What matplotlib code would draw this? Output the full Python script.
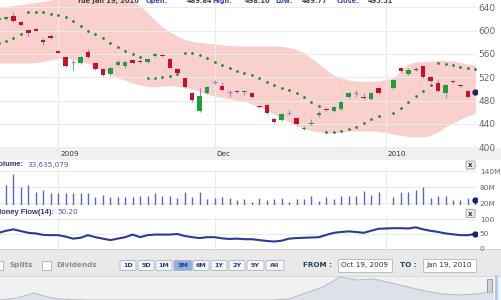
import numpy as np
import matplotlib.pyplot as plt
from matplotlib.patches import Rectangle, FancyBboxPatch

# ---- data (Oct 16 2009 .. Jan 19 2010, one row per session) ----
# session index; 51 (Dec 31) has no data in the chart
days = [-1] + list(range(0, 51)) + list(range(52, 64))

opens = [618.0, 620.0, 625.1, 614.8, 601.1, 602.0, 584.0, 590.8, 565.1, 554.8,
         547.0, 544.5, 563.4, 544.5, 534.2, 525.7, 541.1, 539.4, 549.7, 548.0,
         546.2, 556.5, 558.2, 551.4, 534.2, 518.8, 493.1, 462.3, 493.1, 512.0,
         505.1, 494.8, 496.5, 494.8, 493.1, 470.8, 472.5, 448.5, 446.8, 458.8,
         450.3, 431.4, 440.0, 455.4, 465.7, 462.3, 465.7, 486.3, 493.1, 486.3,
         482.8, 501.7,
         501.7, 536.0, 525.7, 534.2, 539.4, 520.5, 510.2, 493.1, 513.7, 506.8,
         496.5, 489.84]
highs = [623.0, 625.0, 631.9, 616.5, 602.8, 604.5, 587.4, 594.2, 566.0, 556.5,
         549.7, 556.5, 568.5, 546.2, 536.0, 537.7, 549.7, 548.0, 551.4, 549.7,
         553.1, 561.7, 560.0, 553.1, 536.0, 520.5, 494.8, 501.7, 505.1, 515.4,
         512.0, 498.3, 498.3, 498.3, 494.8, 472.5, 474.3, 450.3, 458.8, 464.0,
         452.0, 436.6, 448.5, 462.3, 467.4, 470.8, 479.4, 494.8, 498.3, 493.1,
         494.8, 503.4,
         517.1, 537.7, 536.0, 537.7, 541.1, 522.2, 515.4, 508.5, 515.4, 508.5,
         498.3, 498.10]
lows = [617.0, 618.5, 614.8, 608.0, 590.8, 597.7, 575.4, 585.7, 561.0, 537.7,
        532.5, 542.8, 553.1, 532.5, 522.2, 522.2, 539.4, 536.0, 542.8, 544.5,
        544.5, 554.8, 554.8, 535.5, 525.7, 501.7, 477.7, 460.5, 491.4, 508.5,
        496.5, 486.3, 493.1, 489.7, 484.5, 468.2, 457.1, 441.7, 445.1, 455.4,
        438.3, 429.7, 438.3, 452.0, 462.3, 460.5, 464.0, 484.5, 486.3, 482.8,
        481.1, 491.4,
        500.0, 529.1, 524.0, 530.8, 518.8, 512.0, 494.8, 484.5, 510.2, 503.4,
        484.5, 489.77]
closes = [621.0, 623.0, 616.5, 609.7, 596.0, 599.4, 580.5, 587.4, 561.7, 539.4,
          547.0, 554.8, 554.8, 534.2, 524.0, 536.0, 546.2, 546.2, 544.5, 546.2,
          551.4, 560.0, 556.5, 536.0, 527.4, 503.4, 481.1, 488.0, 503.4, 512.0,
          498.3, 494.8, 494.8, 496.5, 486.3, 469.1, 458.8, 443.4, 457.1, 458.8,
          440.0, 433.1, 441.7, 458.8, 464.0, 469.1, 477.7, 493.1, 493.1, 484.5,
          493.1, 493.1,
          515.4, 530.8, 532.5, 532.5, 520.5, 513.7, 496.5, 506.8, 512.0, 505.1,
          486.3, 495.51]

# parabolic SAR
sar = [578.8, 582.2, 587.4, 594.2, 631.9, 631.9, 631.1, 628.5, 626.8, 623.4,
       616.5, 608.0, 599.4, 594.2, 587.4, 578.8, 571.9, 565.1, 560.0, 554.8,
       518.8, 518.8, 520.5, 522.2, 524.8, 561.7, 560.8, 558.2, 553.1, 546.2,
       541.1, 536.0, 530.8, 527.4, 524.0, 518.8, 512.0, 506.8, 502.5, 498.3,
       493.1, 486.3, 477.7, 470.8, 426.3, 426.3, 428.0, 431.4, 434.8, 441.7,
       448.5, 452.8,
       458.8, 467.4, 477.7, 488.0, 496.5, 506.0, 544.5, 542.8, 541.1, 537.7,
       536.0, 534.2]

# Bollinger bands
bb_upper = [639.7, 641.4, 643.1, 644.8, 646.5, 648.2, 649.9, 652.5, 655.1, 657.7,
            659.4, 661.1, 661.1, 661.1, 660.2, 659.4, 657.7, 655.1, 650.8, 642.2,
            630.2, 618.2, 606.2, 597.7, 590.8, 584.8, 581.4, 579.7, 578.0, 577.1,
            575.4, 574.5, 573.7, 573.7, 573.7, 573.7, 573.7, 573.7, 572.8, 571.1,
            567.7, 561.7, 553.1, 542.8, 532.5, 524.0, 518.8, 515.4, 513.7, 512.8,
            512.8, 513.7,
            518.8, 530.8, 542.8, 546.2, 547.1, 548.0, 548.8, 548.8, 548.0, 545.4,
            542.8, 541.1]
bb_lower = [544.5, 544.5, 544.5, 544.5, 544.5, 545.4, 547.1, 549.7, 552.2, 553.1,
            550.5, 548.0, 543.7, 539.4, 532.5, 525.7, 519.7, 514.5, 510.2, 506.8,
            504.3, 503.4, 505.1, 505.9, 504.3, 502.5, 500.0, 495.7, 491.4, 488.0,
            485.4, 482.8, 481.1, 478.5, 474.3, 469.1, 464.0, 457.1, 450.3, 443.4,
            436.6, 432.3, 428.8, 426.3, 424.5, 424.5, 426.3, 428.0, 428.0, 428.0,
            428.0, 427.1,
            422.8, 420.3, 418.5, 417.7, 417.7, 420.3, 426.3, 434.8, 441.7, 448.5,
            453.7, 458.8]

# volume in millions
volume = [88.6, 88.6, 129.9, 82.3, 88.6, 63.5, 69.9, 59.8, 58.6, 58.6,
          58.6, 58.6, 58.6, 44.8, 51.1, 44.8, 44.8, 44.8, 44.8, 47.4,
          47.4, 57.5, 47.4, 47.4, 41.0, 61.3, 44.8, 63.5, 35.0, 38.8,
          42.5, 38.8, 32.4, 35.0, 26.0, 38.8, 32.4, 35.0, 41.0, 26.0,
          35.0, 35.0, 47.4, 29.8, 44.8, 35.0, 47.4, 47.4, 47.4, 67.3,
          51.1, 63.5,
          42.5, 63.5, 61.3, 69.9, 80.0, 41.0, 47.4, 48.5, 32.4, 32.4,
          38.8, 33.635079]

# money flow (14)
money_flow = [54, 61, 66, 60, 54, 52, 47, 46, 46, 41,
              34, 37, 46, 39, 34, 29, 34, 39, 48, 39,
              46, 48, 48, 48, 50, 43, 39, 36, 39, 39,
              35, 33, 34, 32, 32, 29, 26, 24, 27, 34,
              36, 37, 38, 39, 47, 54, 57, 59, 57, 54,
              61, 68,
              70, 70, 69, 73, 66, 61, 57, 52, 49, 46,
              46, 50.20]

grid_days = [7, 28, 51]
grid_labels = ["2009", "Dec", "2010"]
price_ticks = [400, 440, 480, 520, 560, 600, 640]
vol_ticks = [20, 80, 140]
vol_labels = ["20M", "80M", "140M"]
mf_ticks = [0, 50, 100]

# overview strip along the bottom (long history, mostly below view)
overview = [0, 2, 7, 2, 0.5, 0, 0, 0, 0, 0, 0, 0, 0, 0, 0, 0, 0, 1, 7, 13,
            23, 20, 21, 17, 13, 9, 6, 5, 6, 8]

buttons = ["1D", "5D", "1M", "3M", "6M", "1Y", "2Y", "5Y", "All"]

# ---- figure ----
W, H = 501, 300
RED = "#c3122f"
GREEN = "#1f9e3f"
WICK = "#8a93c8"
NAVY = "#1c2370"
GRID = "#ebebeb"
LBL = "#666666"
ARIAL = "Liberation Sans"

fig = plt.figure(figsize=(W / 100, H / 100), dpi=100)
fig.patch.set_facecolor("white")
plt.rcParams["font.family"] = ["DejaVu Sans"]

bg = fig.add_axes([0, 0, 1, 1], zorder=0)
bg.set_xlim(0, W)
bg.set_ylim(H, 0)
bg.axis("off")

# transparent overlay for texts that sit on top of the panels
top = fig.add_axes([0, 0, 1, 1], zorder=10)
top.set_xlim(0, W)
top.set_ylim(H, 0)
top.axis("off")


def px_axes(x0, y0, x1, y1, z=1):
    a = fig.add_axes([x0 / W, 1 - y1 / H, (x1 - x0) / W, (y1 - y0) / H], zorder=z)
    a.set_facecolor("none")
    for s in a.spines.values():
        s.set_visible(False)
    return a


xlo, xhi = -6 / 7.45, 471 / 7.45

# date band
bg.add_patch(Rectangle((0, 147.5), W, 12.5, color="#eef0f4", lw=0))
for d, lab in zip(grid_days, grid_labels):
    bg.text(6 + 7.45 * d + 2, 154, lab, fontsize=5.2, color="#333333", va="center")

# header (cut off at the top)
hdr = [(77, "Tue Jan 19, 2010", "#444444"), (146, "Open:", "#3b4fa0"),
       (187, "489.84", "#444444"), (212, "High:", "#3b4fa0"),
       (245, "498.10", "#444444"), (275, "Low:", "#3b4fa0"),
       (302, "489.77", "#444444"), (337, "Close:", "#3b4fa0"),
       (368, "495.51", "#444444")]
for x, s, c in hdr:
    top.text(x, 3, s, fontsize=4.8, color=c, fontweight="bold", va="baseline")

# ---- main price panel ----
ax = px_axes(0, 0, 477, 148)
ax.set_xlim(xlo, xhi)
ax.set_ylim(398.8, 652.5)
ax.fill_between(days, bb_lower, bb_upper, color="#f9d0cc", lw=0, zorder=1)
ax.set_axisbelow("line")
ax.set_xticks(grid_days)
ax.set_yticks(price_ticks)
ax.grid(True, color=GRID, lw=0.8)
ax.yaxis.tick_right()
ax.tick_params(axis="x", length=0, labelbottom=False)
ax.tick_params(axis="y", length=0, pad=1, labelsize=6.5, labelcolor=LBL)

for d, o, h, l, c in zip(days, opens, highs, lows, closes):
    ax.vlines(d, l, h, color=WICK, lw=0.8, zorder=2)
    if c > o:
        ax.bar(d, c - o, bottom=o, width=0.6, color=GREEN, lw=0, zorder=3)
    elif c < o:
        ax.bar(d, o - c, bottom=c, width=0.6, color=RED, lw=0, zorder=3)
    else:
        ax.hlines(o, d - 0.3, d + 0.3, color=WICK, lw=0.9, zorder=3)

ax.plot(days, sar, "o", color="#1d8a3a", ms=2.0, mew=0, zorder=4)
ax.plot(days[-1], closes[-1], "o", color=NAVY, ms=3.5, zorder=5)

# ---- volume panel ----
top.text(-5, 165, "Volume:", fontsize=5.4, family=ARIAL, color="#2b3580", fontweight="bold", va="center")
top.text(27, 165, "33,635,079", fontsize=5.2, color="#4a58b0", va="center")
axv = px_axes(0, 170, 477, 204.5)
axv.set_xlim(xlo, xhi)
axv.set_ylim(15.5, 144.9)
axv.set_axisbelow(True)
axv.set_xticks(grid_days)
axv.set_yticks(vol_ticks)
axv.set_yticklabels(vol_labels)
axv.grid(True, color=GRID, lw=0.8)
axv.yaxis.tick_right()
axv.tick_params(axis="x", length=0, labelbottom=False)
axv.tick_params(axis="y", length=0, pad=2, labelsize=5.3, labelcolor=LBL)
axv.vlines(days, 0, volume, color="#5b66c1", lw=1.0)
axv.plot(days[-1], volume[-1], "o", color=NAVY, ms=3.5, zorder=5)

# ---- money flow panel ----
top.text(-5, 212.5, "Money Flow(14):", fontsize=5.4, family=ARIAL, color="#2b3580", fontweight="bold", va="center")
top.text(57, 212.5, "50.20", fontsize=5.2, color="#4a58b0", va="center")
axm = px_axes(0, 216, 477, 249)
axm.set_xlim(xlo, xhi)
axm.set_ylim(-1.7, 112)
axm.set_axisbelow(True)
axm.set_xticks(grid_days)
axm.set_yticks(mf_ticks)
axm.grid(True, color=GRID, lw=0.8)
axm.yaxis.tick_right()
axm.tick_params(axis="x", length=0, labelbottom=False)
axm.tick_params(axis="y", length=0, pad=2, labelsize=5.3, labelcolor=LBL)
axm.plot(days, money_flow, color="#2e3a94", lw=1.5, solid_joinstyle="round")
axm.plot(days[-1], money_flow[-1], "o", color=NAVY, ms=3.5, zorder=5)

# close boxes
for yc in (165, 213.5):
    bg.add_patch(FancyBboxPatch((466, yc - 4), 9, 8, boxstyle="round,pad=0,rounding_size=1.2",
                                fc="#eeeeee", ec="#9a9a9a", lw=0.6))
    bg.text(470.5, yc, "x", fontsize=5, fontweight="bold", color="#333333", ha="center", va="center")

# ---- toolbar ----
bg.add_patch(Rectangle((0, 249), W, 27, color="#e9e9e9", lw=0))
bg.plot([0, W], [249, 249], color="#d0d0d0", lw=0.6)
for x0 in (-6, 42):
    bg.add_patch(Rectangle((x0, 260.5), 9, 9, fc="white", ec="#b0b0b0", lw=0.6))
bg.text(10, 265, "Splits", fontsize=5.2, color="#8c8c8c", fontweight="bold", va="center")
bg.text(56, 265, "Dividends", fontsize=5.2, color="#8c8c8c", fontweight="bold", va="center")

lefts = [120, 138, 156, 174, 193, 211, 229, 247, 266]
widths = [16, 16, 16, 18, 16, 16, 16, 17, 18]
for lab, x0, w in zip(buttons, lefts, widths):
    sel = lab == "3M"
    bg.add_patch(FancyBboxPatch((x0, 260.5), w, 10, boxstyle="round,pad=0,rounding_size=1.2",
                                fc="#8fb1e2" if sel else "#f6f6f6", ec="#aab4c4", lw=0.6))
    bg.text(x0 + w / 2, 265.6, lab, fontsize=4.6, fontweight="bold",
            color="#1d3a8a" if sel else "#2b3c8c", ha="center", va="center")

bg.text(303, 265.3, "FROM :", fontsize=5.2, color="#24405a", fontweight="bold", va="center")
bg.add_patch(Rectangle((338, 258.5), 54, 13.5, fc="white", ec="#b5b5b5", lw=0.6))
bg.text(365, 265.3, "Oct 19, 2009", fontsize=5.2, color="#333333", ha="center", va="center")
bg.text(400, 265.3, "TO :", fontsize=5.2, color="#24405a", fontweight="bold", va="center")
bg.add_patch(Rectangle((423, 258.5), 53, 13.5, fc="white", ec="#b5b5b5", lw=0.6))
bg.text(449.5, 265.3, "Jan 19, 2010", fontsize=5.2, color="#333333", ha="center", va="center")

# ---- overview strip ----
bg.add_patch(Rectangle((0, 276), W, 24, color="#f1f1f1", lw=0))
bg.plot([0, W], [276, 276], color="#d6d6d6", lw=0.6)
axo = px_axes(0, 276, W, 300, z=1)
axo.set_xlim(0, len(overview) - 0.53)
axo.set_ylim(0, 24)
axo.set_xticks([])
axo.set_yticks([])
axo.fill_between(range(len(overview)), 0, overview, color="#dde1e8", lw=0)
axo.plot(range(len(overview)), overview, color="#b7bfcc", lw=0.8)
bg.add_patch(Rectangle((487, 279), 5, 21, fc="#d2d2d2", ec="#8c8c8c", lw=0.6, zorder=3))
bg.plot([496, 496], [276, 300], color="#a9cbef", lw=2)

fig.savefig("out.png", dpi=100)
